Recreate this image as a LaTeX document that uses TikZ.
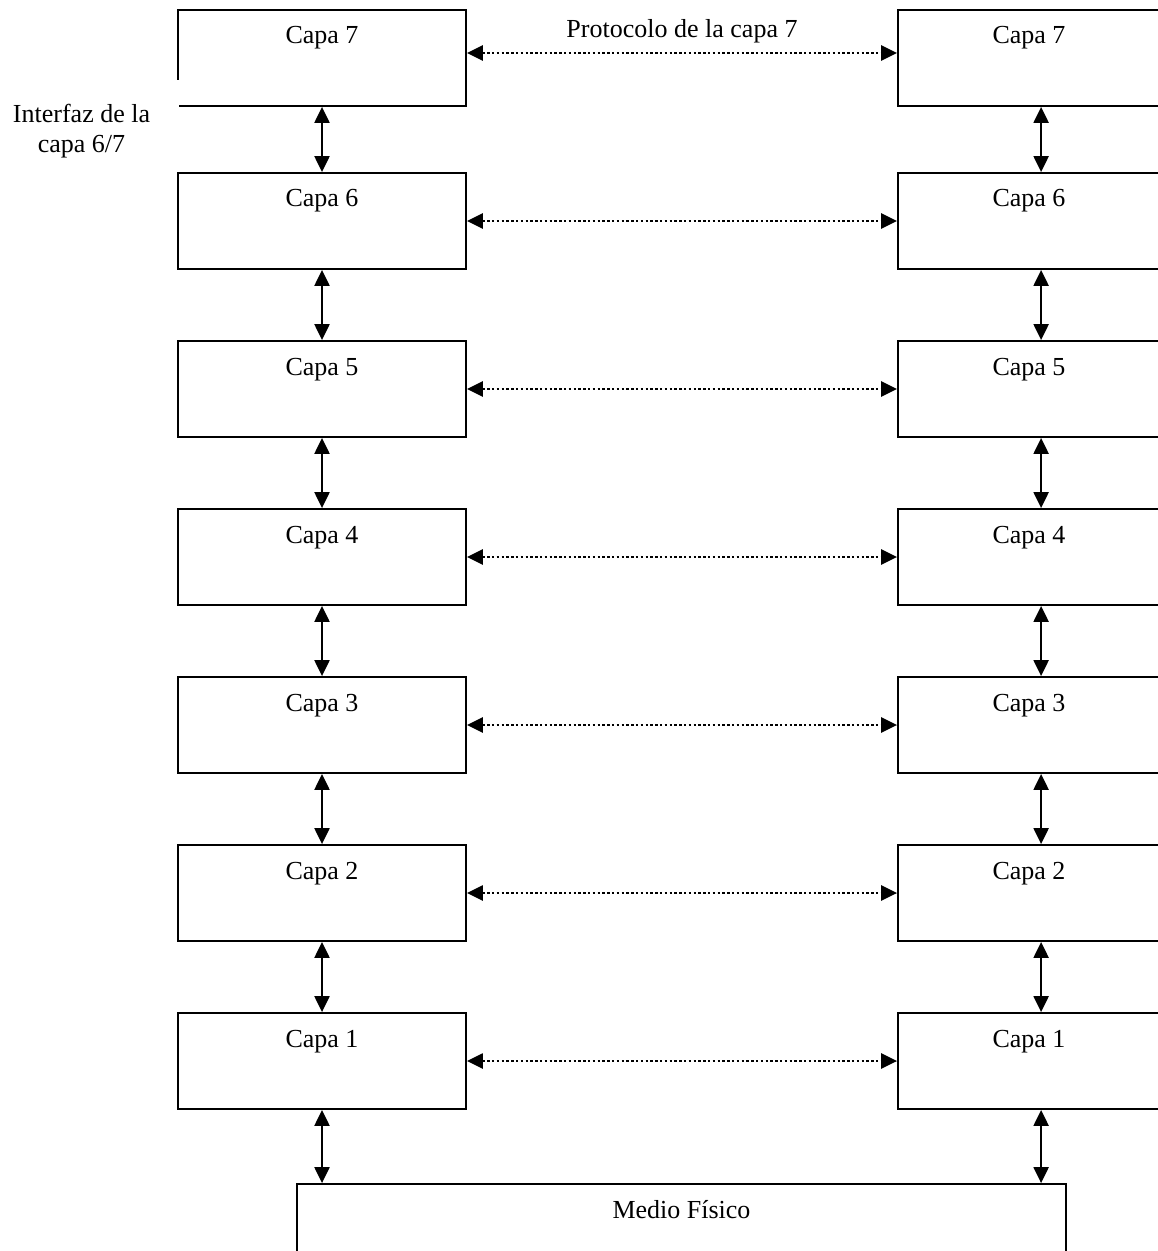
\documentclass[tikz,border=0pt]{standalone}
\usepackage{fontspec}
\setmainfont{Liberation Serif}
\usetikzlibrary{arrows.meta,calc,positioning}

\tikzset{
  capa/.style={draw,line width=0.9pt,rectangle,inner xsep=0pt,inner ysep=7pt,
    text height=10pt,text depth=24pt,minimum height=48pt},
  capaL/.style={capa,minimum width=144pt},
  capaR/.style={capa,minimum width=131pt},
  interfaz/.style={<->,line width=1.1pt},
  protocolo/.style={<->,line width=1.2pt,dash pattern=on 1.2pt off 1.2pt},
}

\begin{document}
\begin{tikzpicture}[x=0.5pt,y=-0.5pt,>={Triangle[length=8pt,width=7.5pt]},
  font=\fontsize{13}{15}\selectfont]
  \useasboundingbox (0,0) rectangle (1157,1251);
  % capas de los dos sistemas
  \node[capaL] (L7) at (322,58) {Capa 7};
  \node[capaR] (R7) at (1029,58) {Capa 7};
  % la etiqueta tapa parte del borde izquierdo de la capa 7
  \node[fill=white,align=center,inner xsep=14.5pt,inner ysep=12pt,anchor=north east]
    (interfaz) at (179.5,80) {Interfaz de la\\capa 6/7};
  \foreach \i in {1,...,6}
  {
    \node[capaL] (L\i) at (322,{221+(6-\i)*168}) {Capa \i};
    \node[capaR] (R\i) at (1029,{221+(6-\i)*168}) {Capa \i};
  }
  \node[capa,minimum width=384.5pt] (medio) at (681.5,1232) {Medio Físico};
  % interfaces entre capas
  \foreach \i/\j in {7/6,6/5,5/4,4/3,3/2,2/1}
  {
    \draw[interfaz] (L\i.south) -- (L\j.north);
    \draw[interfaz] ([xshift=72pt]R\i.south west) -- ([xshift=72pt]R\j.north west);
  }
  \coordinate (r1s) at ([xshift=72pt]R1.south west);
  \draw[interfaz] (L1.south) -- (L1.south |- medio.north);
  \draw[interfaz] (r1s) -- (r1s |- medio.north);
  % protocolos entre capas iguales
  \draw[protocolo] ([yshift=2.5pt]L7.east) -- node[above=1pt] (proto) {Protocolo de la capa 7}
    ([yshift=2.5pt]R7.west);
  \foreach \i in {1,...,6}
    \draw[protocolo] (L\i.east) -- (R\i.west);
\end{tikzpicture}
\end{document}
